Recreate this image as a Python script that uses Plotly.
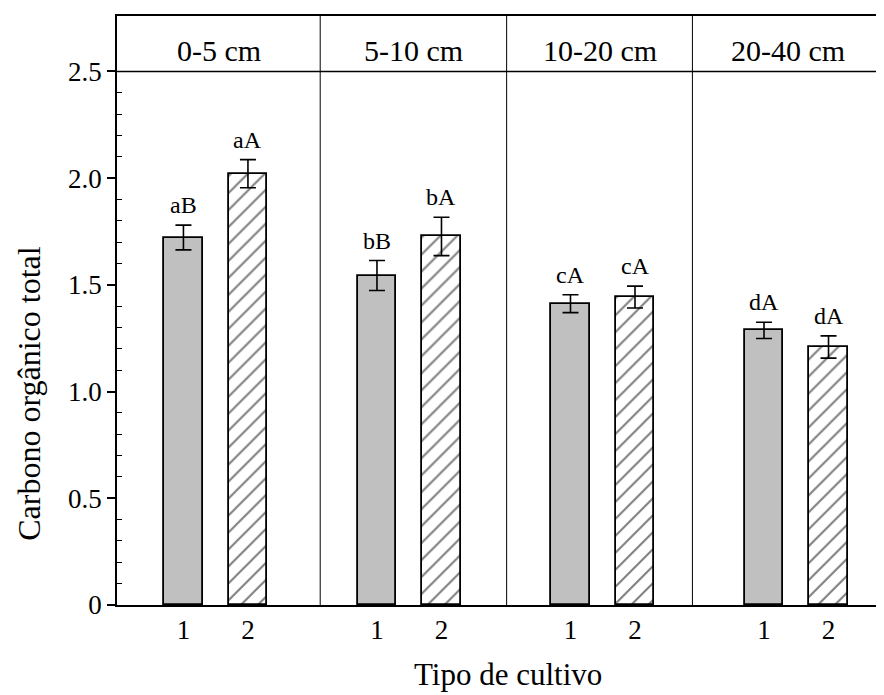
import plotly.graph_objects as go

# ---- data ----
depths = ["0-5 cm", "5-10 cm", "10-20 cm", "20-40 cm"]
cultivo_labels = ["1", "2"]
cultivo1_values = [1.722, 1.544, 1.412, 1.287]
cultivo1_errors = [0.058, 0.070, 0.042, 0.038]
cultivo2_values = [2.021, 1.727, 1.443, 1.209]
cultivo2_errors = [0.066, 0.090, 0.051, 0.052]
cultivo1_letters = ["aB", "bB", "cA", "dA"]
cultivo2_letters = ["aA", "bA", "cA", "dA"]
y_tick_vals = [0, 0.5, 1.0, 1.5, 2.0, 2.5]
y_tick_text = ["0", "0.5", "1.0", "1.5", "2.0", "2.5"]
x_title = "Tipo de cultivo"
y_title = "Carbono orgânico total"

# ---- layout constants ----
FONT = "Liberation Serif, Times New Roman, serif"
X_RANGE = [-0.03, 11.86]
Y_TOP = 2.76
HEADER_Y = 2.5
DIVIDERS = [3.12, 6.01, 8.89]

x1 = [g * 3 + 1 for g in range(len(depths))]
x2 = [g * 3 + 2 for g in range(len(depths))]

fig = go.Figure()
fig.add_trace(go.Bar(
    x=x1, y=cultivo1_values, width=0.6,
    marker=dict(color="#c0c0c0", line=dict(color="black", width=1.8)),
    error_y=dict(type="data", array=cultivo1_errors, color="black", thickness=1.6, width=8),
    showlegend=False,
))
fig.add_trace(go.Bar(
    x=x2, y=cultivo2_values, width=0.6,
    marker=dict(color="white", line=dict(color="black", width=1.8),
                pattern=dict(shape="/", fgcolor="black", bgcolor="white", size=12, solidity=0.17)),
    error_y=dict(type="data", array=cultivo2_errors, color="black", thickness=1.6, width=8),
    showlegend=False,
))

annotations = []
for xs, vals, errs, letters in [(x1, cultivo1_values, cultivo1_errors, cultivo1_letters),
                                (x2, cultivo2_values, cultivo2_errors, cultivo2_letters)]:
    for x, v, e, t in zip(xs, vals, errs, letters):
        annotations.append(dict(x=x, y=v + e, text=t, showarrow=False, yanchor="bottom",
                                yshift=5, font=dict(family=FONT, size=24, color="black")))

bounds = [X_RANGE[0]] + DIVIDERS + [X_RANGE[1]]
for i, d in enumerate(depths):
    annotations.append(dict(x=(bounds[i] + bounds[i + 1]) / 2, y=(HEADER_Y + Y_TOP) / 2,
                            text=d, showarrow=False, yanchor="middle", yshift=-7,
                            font=dict(family=FONT, size=30, color="black")))

# axis titles placed as annotations (positions as in the reference)
annotations.append(dict(xref="paper", yref="paper", x=0.51, y=-0.118, text=x_title,
                        showarrow=False, xanchor="center", yanchor="middle",
                        font=dict(family=FONT, size=31, color="black")))
annotations.append(dict(xref="paper", yref="paper", x=-0.115, y=0.36, text=y_title,
                        textangle=-90, showarrow=False, xanchor="center", yanchor="middle",
                        font=dict(family=FONT, size=32, color="black")))

shapes = [dict(type="line", xref="paper", yref="y", x0=0, x1=1, y0=HEADER_Y, y1=HEADER_Y,
               line=dict(color="black", width=1.5))]
for d in DIVIDERS:
    shapes.append(dict(type="line", xref="x", yref="y", x0=d, x1=d, y0=0, y1=Y_TOP,
                       line=dict(color="black", width=1)))

minor_vals = [round(i * 0.1, 1) for i in range(1, 25) if i % 5 != 0]

# the page body has an 8px margin, so the figure is shrunk and shifted by 8px
fig.update_layout(
    width=876, height=687,
    margin=dict(l=109, r=0, t=8, b=90, autoexpand=False),
    paper_bgcolor="white", plot_bgcolor="white",
    font=dict(family=FONT, size=24, color="black"),
    bargap=0,
    annotations=annotations,
    shapes=shapes,
    xaxis=dict(
        range=X_RANGE, tickmode="array",
        tickvals=x1 + x2, ticktext=[cultivo_labels[0]] * 4 + [cultivo_labels[1]] * 4,
        ticks="", showgrid=False, zeroline=False, automargin=False,
        showline=True, linecolor="black", linewidth=2, mirror=True,
        tickfont=dict(family=FONT, size=27, color="black"),
    ),
    yaxis=dict(
        range=[0, Y_TOP], tickmode="array", tickvals=y_tick_vals, ticktext=y_tick_text,
        ticks="outside", ticklen=8, tickwidth=1.5, tickcolor="black",
        minor=dict(tickmode="array", tickvals=minor_vals, ticks="inside", ticklen=5,
                   tickwidth=1.2, tickcolor="black", showgrid=False),
        showgrid=False, zeroline=False, automargin=False,
        showline=True, linecolor="black", linewidth=1.5,
        tickfont=dict(family=FONT, size=27, color="black"),
    ),
)

fig.write_html("out.html")
